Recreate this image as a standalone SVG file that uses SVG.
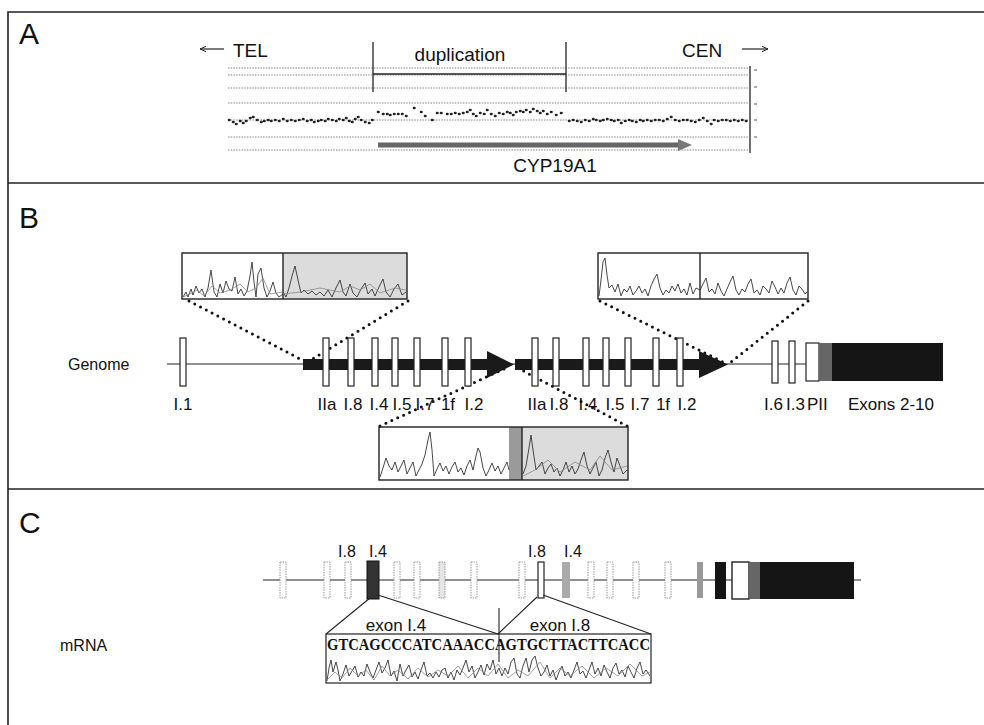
<svg xmlns="http://www.w3.org/2000/svg" width="984" height="725" viewBox="0 0 984 725">
<defs>
<style>
.t{font-family:"Liberation Sans",Arial,sans-serif;fill:#111}
.pl{font-size:30px}
.a{font-size:19px}
.b{font-size:17px}
.c{font-size:16px}
.seq{font-family:"Liberation Serif","Times New Roman",serif;font-weight:bold;font-size:17px;fill:#111}
.frame{stroke:#222;stroke-width:1.6;fill:none}
.grid{stroke:#777;stroke-width:0.9;stroke-dasharray:1.5 1.2;fill:none}
.ln{stroke:#222;stroke-width:1.2;fill:none}
.ex{fill:#fff;stroke:#222;stroke-width:1.2}
.ghost{fill:#fff;stroke:#999;stroke-width:1;stroke-dasharray:1.5 1}
.dots{stroke:#111;stroke-width:3;stroke-linecap:round;stroke-dasharray:0 6.5;fill:none}
.tr{fill:none;stroke:#333;stroke-width:0.9;stroke-linejoin:round}
.tr2{fill:none;stroke:#888;stroke-width:0.8;stroke-linejoin:round}
.box{fill:#fff;stroke:#222;stroke-width:1.4}
.stip{fill:#dcdcdc}
.pt{stroke:#222;stroke-width:2.6;stroke-linecap:round;fill:none}
</style>
<marker id="ah" viewBox="0 0 10 10" refX="9" refY="5" markerWidth="7" markerHeight="7" orient="auto-start-reverse" markerUnits="userSpaceOnUse">
<path d="M0,1 L9,5 L0,9" fill="none" stroke="#222" stroke-width="1.4"/>
</marker>
</defs>
<rect width="984" height="725" fill="#fff"/>

<!-- frame -->
<g id="frame">
<path class="frame" d="M8,725 V12 H984"/>
<line class="frame" x1="8" y1="183" x2="984" y2="183"/>
<line class="frame" x1="8" y1="489" x2="984" y2="489"/>
<text class="t pl" x="19" y="44">A</text>
<text class="t pl" x="19" y="228">B</text>
<text class="t pl" x="19" y="533">C</text>
</g>

<!-- Panel A -->
<g id="panelA">
<line class="ln" x1="224" y1="49" x2="200" y2="49" marker-end="url(#ah)"/>
<text class="t a" x="233" y="57">TEL</text>
<text class="t a" x="682" y="57">CEN</text>
<line class="ln" x1="742" y1="49" x2="768" y2="49" marker-end="url(#ah)"/>
<text class="t a" x="460" y="61" text-anchor="middle">duplication</text>
<g>
<line class="grid" x1="228" y1="68" x2="748" y2="68"/>
<line class="grid" x1="228" y1="75" x2="748" y2="75"/>
<line class="grid" x1="228" y1="88" x2="748" y2="88"/>
<line class="grid" x1="228" y1="103" x2="748" y2="103"/>
<line class="grid" x1="228" y1="120" x2="748" y2="120"/>
<line class="grid" x1="228" y1="137" x2="748" y2="137"/>
<line class="grid" x1="228" y1="150" x2="748" y2="150"/>
</g>
<line x1="373" y1="74" x2="566" y2="74" stroke="#222" stroke-width="1.3"/>
<line x1="373" y1="42" x2="373" y2="92" stroke="#222" stroke-width="1.3"/>
<line x1="566" y1="42" x2="566" y2="92" stroke="#222" stroke-width="1.3"/>
<line x1="750" y1="66" x2="750" y2="153" stroke="#222" stroke-width="1.3"/>
<g stroke="#555" stroke-width="1">
<line x1="754" y1="70" x2="757" y2="70"/><line x1="754" y1="87" x2="757" y2="87"/><line x1="754" y1="104" x2="757" y2="104"/><line x1="754" y1="120" x2="757" y2="120"/><line x1="754" y1="137" x2="757" y2="137"/>
</g>
<path class="pt" d="M229,120h0.5 M233,122h0.5 M236,124h0.5 M240,121h0.5 M243,123h0.5 M246,121h0.5 M250,118h0.5 M253,117h0.5 M257,120h0.5 M261,122h0.5 M264,121h0.5 M268,120h0.5 M271,121h0.5 M275,120h0.5 M279,121h0.5 M283,119h0.5 M287,121h0.5 M291,120h0.5 M295,121h0.5 M299,120h0.5 M303,119h0.5 M307,121h0.5 M311,120h0.5 M314,122h0.5 M318,121h0.5 M321,120h0.5 M325,121h0.5 M328,119h0.5 M332,120h0.5 M336,121h0.5 M339,119h0.5 M343,120h0.5 M346,118h0.5 M349,121h0.5 M352,122h0.5 M355,119h0.5 M358,117h0.5 M361,120h0.5 M365,122h0.5 M369,123h0.5 M372,120h0.5
M378,112h0.5 M383,114h0.5 M387,114h0.5 M390,115h0.5 M394,114h0.5 M398,114h0.5 M402,114h0.5 M406,116h0.5 M414,108h0.5 M421,112h0.5 M425,116h0.5 M432,120h0.5 M437,113h0.5 M441,113h0.5 M447,114h0.5 M451,114h0.5 M455,113h0.5 M459,114h0.5 M463,113h0.5 M467,112h0.5 M470,110h0.5 M473,114h0.5 M476,116h0.5 M480,113h0.5 M484,114h0.5 M487,110h0.5 M491,114h0.5 M495,116h0.5 M499,113h0.5 M503,114h0.5 M507,112h0.5 M510,113h0.5 M513,115h0.5 M516,112h0.5 M520,111h0.5 M523,112h0.5 M526,110h0.5 M530,112h0.5 M533,109h0.5 M537,111h0.5 M540,113h0.5 M543,111h0.5 M547,114h0.5 M551,112h0.5 M556,115h0.5 M561,113h0.5
M569,121h0.5 M573,120h0.5 M577,121h0.5 M581,122h0.5 M585,120h0.5 M589,121h0.5 M593,119h0.5 M596,120h0.5 M600,121h0.5 M603,120h0.5 M607,119h0.5 M611,120h0.5 M614,121h0.5 M618,120h0.5 M621,123h0.5 M625,121h0.5 M629,120h0.5 M632,121h0.5 M636,122h0.5 M640,120h0.5 M643,121h0.5 M647,120h0.5 M651,121h0.5 M655,120h0.5 M659,120h0.5 M663,121h0.5 M667,119h0.5 M671,117h0.5 M675,120h0.5 M679,121h0.5 M683,120h0.5 M687,120h0.5 M691,121h0.5 M695,122h0.5 M699,120h0.5 M703,118h0.5 M707,121h0.5 M711,124h0.5 M714,120h0.5 M718,121h0.5 M722,120h0.5 M726,120h0.5 M730,121h0.5 M734,120h0.5 M738,121h0.5 M742,120h0.5 M746,121h0.5"/>
<line x1="378" y1="145" x2="680" y2="145" stroke="#666" stroke-width="5"/>
<polygon points="678,139 692,145 678,151" fill="#777"/>
<text class="t a" x="555" y="172" text-anchor="middle">CYP19A1</text>
</g>

<!-- Panel B -->
<g id="panelB">
<text class="t c" x="68" y="370">Genome</text>
<g id="connectorsB">
<line x1="167" y1="364" x2="806" y2="364" stroke="#222" stroke-width="1.2"/>
<path class="dots" d="M189,301 L304,361"/>
<path class="dots" d="M408,301 L309,361"/>
<path class="dots" d="M600,301 L723,362"/>
<path class="dots" d="M808,301 L731,362"/>
<path class="dots" d="M380,426 L506,368"/>
<path class="dots" d="M627,426 L516,367"/>
</g>
<g id="bar1">
<rect x="303" y="359" width="188" height="11" fill="#1a1a1a"/>
<polygon points="487,351 514,364.5 487,378" fill="#1a1a1a"/>
</g>
<g id="bar2">
<rect x="515" y="359" width="188" height="11" fill="#1a1a1a"/>
<polygon points="699,351 728,364.5 699,378" fill="#1a1a1a"/>
</g>
<g id="exonsB">
<rect class="ex" x="180" y="338" width="6" height="48"/>
<rect class="ex" x="323" y="338" width="6" height="48"/>
<rect class="ex" x="348" y="338" width="6" height="48"/>
<rect class="ex" x="372" y="338" width="6" height="48"/>
<rect class="ex" x="392" y="338" width="6" height="48"/>
<rect class="ex" x="414" y="338" width="6" height="48"/>
<rect class="ex" x="442" y="338" width="6" height="48"/>
<rect class="ex" x="465" y="338" width="6" height="48"/>
<rect class="ex" x="532" y="338" width="6" height="48"/>
<rect class="ex" x="553" y="338" width="6" height="48"/>
<rect class="ex" x="583" y="338" width="6" height="48"/>
<rect class="ex" x="603" y="338" width="6" height="48"/>
<rect class="ex" x="625" y="338" width="6" height="48"/>
<rect class="ex" x="653" y="338" width="6" height="48"/>
<rect class="ex" x="677" y="338" width="6" height="48"/>
<rect class="ex" x="772" y="341" width="6" height="42"/>
<rect class="ex" x="789" y="341" width="6" height="42"/>
<rect x="806" y="343" width="13" height="38" fill="#fff" stroke="#222" stroke-width="1.2"/>
<rect x="819" y="343" width="13" height="38" fill="#666"/>
<rect x="832" y="343" width="111" height="38" fill="#151515"/>
</g>
<g id="labelsB" class="t b">
<text x="183" y="410" text-anchor="middle">I.1</text>
<text x="327" y="410" text-anchor="middle">IIa</text>
<text x="353" y="410" text-anchor="middle">I.8</text>
<text x="379" y="410" text-anchor="middle">I.4</text>
<text x="402" y="410" text-anchor="middle">I.5</text>
<text x="425" y="410" text-anchor="middle">I.7</text>
<text x="448" y="410" text-anchor="middle">1f</text>
<text x="474" y="410" text-anchor="middle">I.2</text>
<text x="537" y="410" text-anchor="middle">IIa</text>
<text x="559" y="410" text-anchor="middle">I.8</text>
<text x="588" y="410" text-anchor="middle">I.4</text>
<text x="615" y="410" text-anchor="middle">I.5</text>
<text x="640" y="410" text-anchor="middle">I.7</text>
<text x="663" y="410" text-anchor="middle">1f</text>
<text x="687" y="410" text-anchor="middle">I.2</text>
<text x="764" y="410">I.6</text>
<text x="786" y="410">I.3</text>
<text x="807" y="410">PII</text>
<text x="848" y="410">Exons 2-10</text>
</g>
<g id="chrom1">
<rect x="283" y="253" width="124" height="46" class="stip"/>
<rect x="182" y="253" width="225" height="46" fill="none" stroke="#222" stroke-width="1.4"/>
<line x1="283" y1="253" x2="283" y2="299" stroke="#222" stroke-width="1.4"/>
<path class="tr" d="M183,297 L186,292 L188,297 L191,289 L193,295 L196,286 L199,293 L202,289 L205,297 L208,288 L211,270 L214,292 L217,297 L220,284 L223,293 L226,281 L229,289 L232,291 L235,277 L238,294 L241,289 L244,296 L247,291 L250,276 L252,262 L254,282 L256,297 L258,274 L261,268 L264,288 L267,297 L270,291 L273,282 L276,293 L279,297 L283,294"/>
<path class="tr2" d="M183,297 L190,294 L197,290 L204,296 L212,286 L220,293 L230,290 L240,284 L248,292 L256,288 L263,278 L270,294 L283,292"/>
<path class="tr" d="M283,292 L286,297 L289,288 L292,276 L295,266 L298,280 L301,293 L304,290 L308,294 L312,291 L316,295 L320,292 L324,296 L328,290 L332,297 L336,288 L340,280 L343,292 L346,296 L350,284 L353,293 L357,297 L361,289 L365,283 L368,294 L372,289 L375,296 L379,287 L383,279 L386,292 L390,297 L394,289 L398,284 L402,295 L406,292"/>
<path class="tr2" d="M283,294 L300,292 L320,288 L340,292 L350,286 L360,290 L370,284 L380,293 L395,288 L406,290"/>
</g>
<g id="chrom2">
<rect x="598" y="253" width="210" height="46" class="box"/>
<line x1="700" y1="253" x2="700" y2="299" stroke="#222" stroke-width="1.4"/>
<path class="tr" d="M599,296 L601,280 L603,262 L605,258 L607,275 L609,288 L612,285 L615,292 L618,284 L621,296 L624,289 L627,292 L630,286 L633,295 L636,291 L639,286 L642,293 L645,289 L648,296 L651,286 L654,279 L657,274 L660,288 L663,295 L666,290 L669,293 L672,286 L675,291 L678,284 L681,293 L684,289 L687,295 L690,283 L693,294 L696,288 L700,290 L703,284 L706,278 L709,292 L712,289 L715,294 L718,283 L721,291 L724,296 L727,289 L730,282 L733,276 L736,290 L739,295 L742,289 L745,292 L748,284 L751,279 L754,293 L757,290 L760,295 L763,286 L766,289 L769,293 L772,281 L775,287 L778,294 L781,288 L784,293 L787,283 L790,277 L793,290 L796,295 L799,286 L802,289 L805,294 L807,292"/>
</g>
<g id="chrom3">
<rect x="522" y="427" width="106" height="53" class="stip"/>
<rect x="509" y="427" width="13" height="53" fill="#9a9a9a"/>
<rect x="379" y="427" width="249" height="53" fill="none" stroke="#222" stroke-width="1.4"/>
<line x1="522" y1="427" x2="522" y2="480" stroke="#222" stroke-width="1.4"/>
<path class="tr" d="M380,477 L383,468 L386,458 L389,466 L392,470 L395,462 L398,472 L401,466 L404,460 L407,474 L410,468 L413,462 L416,476 L419,470 L422,464 L425,455 L428,440 L430,432 L432,450 L434,476 L437,469 L440,463 L443,471 L446,466 L449,474 L452,467 L455,462 L458,472 L461,468 L464,475 L467,466 L470,460 L473,470 L476,456 L478,448 L480,452 L483,468 L486,476 L489,470 L492,463 L495,471 L498,466 L501,474 L504,468 L507,462 L509,470"/>
<path class="tr" d="M523,474 L526,466 L529,448 L531,435 L533,450 L536,470 L539,466 L542,462 L545,474 L548,468 L551,464 L554,472 L557,468 L560,476 L563,470 L566,462 L569,472 L572,466 L575,474 L578,469 L581,460 L584,452 L587,466 L590,474 L593,468 L596,462 L599,476 L602,470 L605,458 L608,450 L611,462 L614,472 L617,458 L620,466 L623,474 L627,470"/>
<path class="tr2" d="M523,476 L535,470 L548,460 L560,472 L575,462 L590,470 L600,456 L612,470 L627,466"/>
</g>
</g>

<!-- Panel C -->
<g id="panelC">
<text class="t c" x="60" y="651">mRNA</text>
<line x1="263" y1="580" x2="861" y2="580" stroke="#222" stroke-width="1.2"/>
<g id="exonsC">
<rect class="ghost" x="280" y="562" width="6" height="36"/>
<rect class="ghost" x="324" y="562" width="6" height="36"/>
<rect class="ghost" x="345" y="562" width="6" height="36"/>
<rect x="367" y="561" width="12" height="38" fill="#333" stroke="#111" stroke-width="1"/>
<rect class="ghost" x="394" y="562" width="6" height="36"/>
<rect class="ghost" x="414" y="562" width="6" height="36"/>
<rect x="439" y="562" width="6" height="36" fill="#e6e6e6" stroke="#999" stroke-width="1" stroke-dasharray="1.5 1"/>
<rect class="ghost" x="471" y="562" width="6" height="36"/>
<rect class="ghost" x="519" y="562" width="6" height="36"/>
<rect x="538" y="562" width="6" height="36" fill="#fff" stroke="#222" stroke-width="1.2"/>
<rect x="562" y="562" width="8" height="36" fill="#aaa"/>
<rect class="ghost" x="588" y="562" width="6" height="36"/>
<rect class="ghost" x="607" y="562" width="6" height="36"/>
<rect class="ghost" x="633" y="562" width="6" height="36"/>
<rect class="ghost" x="665" y="562" width="6" height="36"/>
<rect x="697" y="562" width="6" height="36" fill="#999"/>
<rect x="715" y="562" width="11" height="37" fill="#151515"/>
<rect x="732" y="562" width="17" height="37" fill="#fff" stroke="#222" stroke-width="1.4"/>
<rect x="749" y="562" width="11" height="37" fill="#666"/>
<rect x="760" y="562" width="94" height="37" fill="#151515"/>
</g>
<g id="labelsC" class="t c">
<text x="347" y="557" text-anchor="middle">I.8</text>
<text x="378" y="557" text-anchor="middle">I.4</text>
<text x="537" y="557" text-anchor="middle">I.8</text>
<text x="573" y="557" text-anchor="middle">I.4</text>
</g>
<g id="connectorsC" stroke="#222" stroke-width="1.1" fill="none">
<path d="M370,598 L326,634"/>
<path d="M378,595 L498,634"/>
<path d="M498,634 L537,597"/>
<path d="M543,595 L651,634"/>
<line x1="499" y1="608" x2="499" y2="662"/>
</g>
<text class="t b" x="396" y="631" text-anchor="middle">exon I.4</text>
<text class="t b" x="560" y="631" text-anchor="middle">exon I.8</text>
<g id="seqbox">
<rect x="326" y="634" width="325" height="49" fill="none" stroke="#222" stroke-width="1.2"/>
<text class="seq" x="327" y="650" textLength="323" lengthAdjust="spacingAndGlyphs">GTCAGCCCATCAAACCAGTGCTTACTTCACC</text>
<path class="tr" d="M327,681 L329,668 L331,660 L333,672 L336,662 L338,670 L340,681 L343,674 L346,665 L349,676 L352,671 L355,666 L358,677 L361,672 L364,676 L367,664 L370,672 L373,678 L376,670 L379,662 L382,673 L385,668 L388,660 L391,676 L394,671 L397,681 L400,664 L403,676 L406,670 L409,665 L412,677 L415,672 L418,679 L421,670 L424,662 L427,676 L430,673 L433,678 L436,672 L439,677 L442,670 L445,668 L448,678 L451,672 L454,680 L457,670 L460,675 L463,668 L466,660 L469,672 L472,666 L475,678 L478,672 L481,665 L484,675 L487,664 L490,670 L493,660 L496,674 L499,668 L502,676 L505,668 L508,674 L511,662 L514,658 L517,674 L520,678 L523,666 L526,658 L529,672 L532,660 L535,656 L538,668 L541,676 L544,672 L547,665 L550,676 L553,670 L556,680 L559,672 L562,666 L565,676 L568,672 L571,678 L574,670 L577,662 L580,674 L583,671 L586,678 L589,670 L592,662 L595,674 L598,668 L601,676 L604,665 L607,672 L610,678 L613,668 L616,663 L619,674 L622,670 L625,677 L628,666 L631,672 L634,678 L637,668 L640,662 L643,674 L646,670 L650,676"/>
<path class="tr2" d="M327,680 L335,672 L342,678 L350,668 L358,676 L366,670 L374,680 L382,666 L390,676 L398,670 L408,679 L418,668 L428,677 L438,670 L448,676 L458,666 L468,678 L478,668 L488,676 L498,664 L508,678 L518,670 L528,676 L540,662 L550,678 L560,668 L570,676 L582,666 L594,678 L606,668 L618,676 L630,664 L642,676 L650,672"/>
</g>
</g>
</svg>
